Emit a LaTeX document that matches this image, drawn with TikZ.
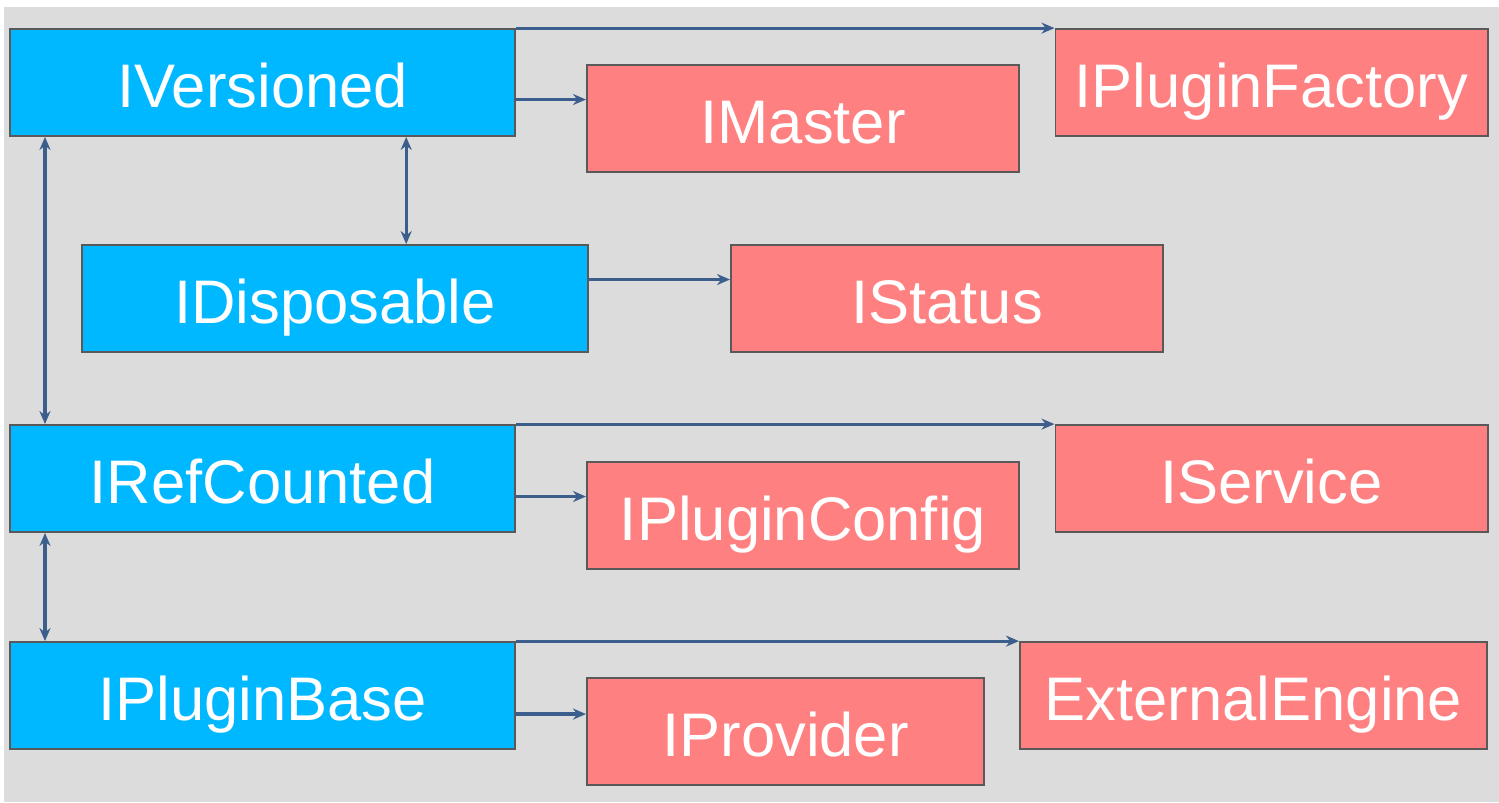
\documentclass[tikz,border=0pt]{standalone}
\usepackage{fontspec}
\setmainfont{Liberation Sans}
\usetikzlibrary{arrows.meta}
\definecolor{ifaceblue}{HTML}{00B8FF}
\definecolor{implred}{HTML}{FF8080}
\definecolor{bggray}{HTML}{DCDCDC}
\definecolor{linkblue}{HTML}{3B5E8C}
\tikzstyle{arrow} = [-{Stealth[length=0.13cm,width=0.11cm]},draw=linkblue,line width=0.9pt]
\tikzstyle{darrow} = [{Stealth[length=0.13cm,width=0.11cm]}-{Stealth[length=0.13cm,width=0.11cm]},draw=linkblue,line width=0.9pt]
\tikzstyle{iface} = [draw=black!65,line width=0.5pt,fill=ifaceblue,text=white,minimum width=5.05cm,minimum height=1.07cm,inner sep=0pt,text height=0.5cm,text depth=0pt,font=\fontsize{17.5}{20}\selectfont]
\tikzstyle{impl} = [iface,fill=implred,minimum width=4.32cm]

\begin{document}
\begin{tikzpicture}[x=0.01cm,y=-0.01cm]
        \useasboundingbox (0,0) rectangle (1499,802);
        \fill[bggray] (4,7) rectangle (1499,802);

        \node[iface] at (262.5,82.5) (ver) {IVersioned};
        \node[impl] at (803,118.5) (mas) {IMaster};
        \node[impl] at (1271.5,82.5) (fac) {IPluginFactory};
        \node[iface] at (335,298.5) (dis) {IDisposable};
        \node[impl] at (947,298.5) (sta) {IStatus};
        \node[iface] at (262.5,478.5) (ref) {IRefCounted};
        \node[impl] at (803,515.5) (cfg) {IPluginConfig};
        \node[impl] at (1271.5,478.5) (svc) {IService};
        \node[iface] at (262.5,695.5) (bas) {IPluginBase};
        \node[impl, minimum width=3.97cm] at (785.5,731.5) (pro) {IProvider};
        \node[impl, minimum width=4.67cm] at (1253.5,695.5) (ext) {ExternalEngine};

        \draw[arrow] (ver.north east) -- (fac.north west);
        \draw[arrow] (ver.east |- mas.175) -- (mas.175);
        \draw[arrow] (dis.east |- sta.175) -- (sta.175);
        \draw[arrow] (ref.north east) -- (svc.north west);
        \draw[arrow] (ref.east |- cfg.175) -- (cfg.175);
        \draw[arrow] (bas.north east) -- (ext.north west);
        \draw[arrow] (bas.east |- pro.175) -- (pro.175);

        \draw[darrow] ([xshift=0.36cm]ver.south west) -- ([xshift=0.36cm]ref.north west);
        \draw[darrow] ([xshift=3.97cm]ver.south west) -- ([xshift=3.97cm]ver.south west |- dis.north);
        \draw[darrow] ([xshift=0.36cm]ref.south west) -- ([xshift=0.36cm]bas.north west);
\end{tikzpicture}
\end{document}
